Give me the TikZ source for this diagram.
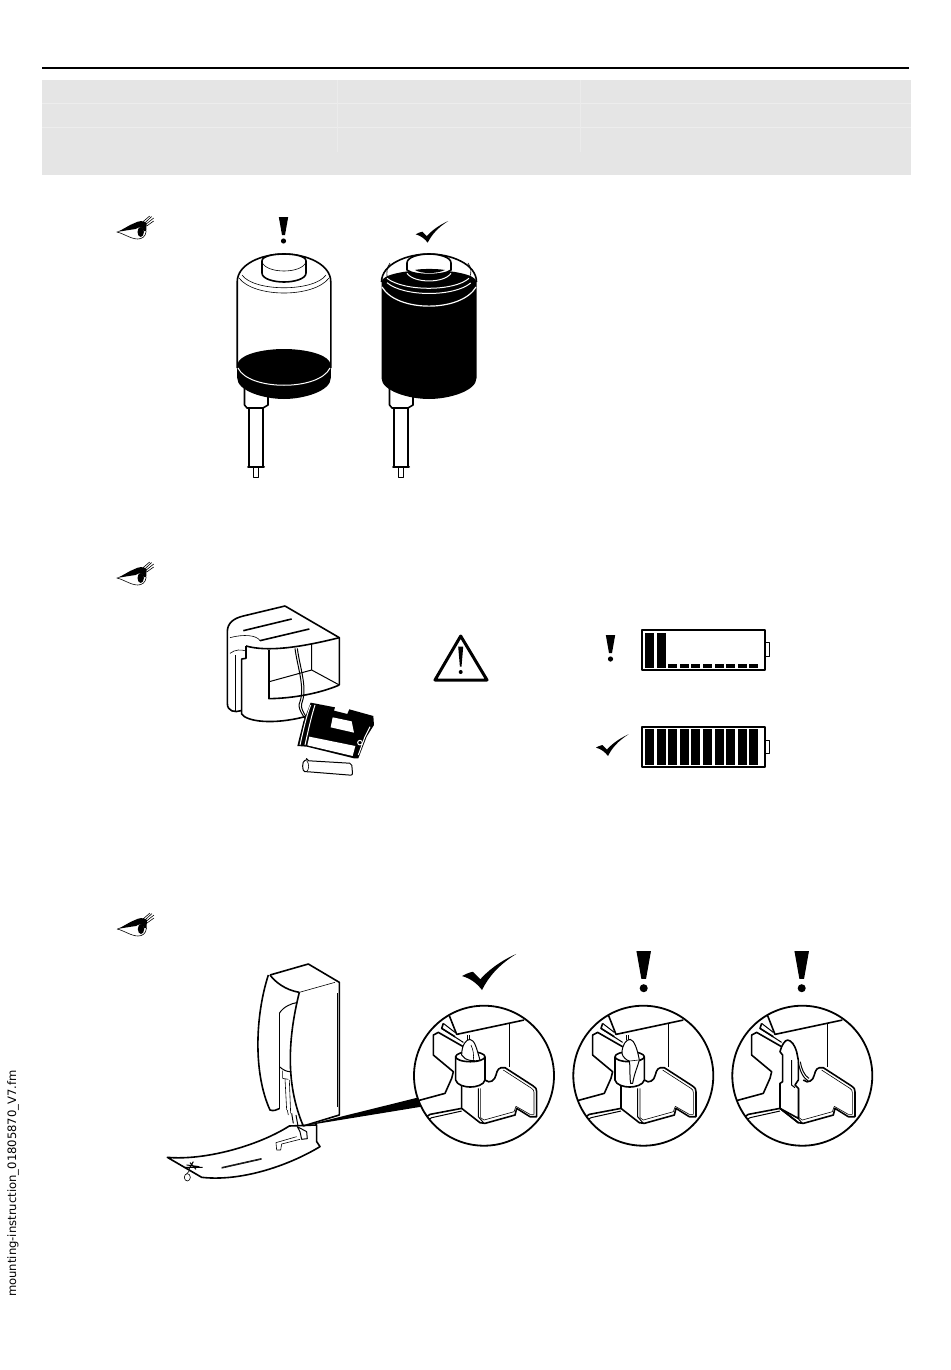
\documentclass[tikz,border=0pt]{standalone}
\usepackage{fontspec}
\setmainfont{DejaVu Sans}
\tikzset{
	heavy/.style={line width=1.6pt,line join=round},
	medium/.style={line width=1pt,line join=round},
	fine/.style={line width=.6pt,line join=round},
	zoomview/.style={shift={(#1,1075.7)},x=.3333pt,y=-.3333pt,shift={(-222,-392)}},
	tickmark/.pic={
		\fill(0,0)..controls(-3,-4)and(-7,-7)..(-12,-8.4)..controls(-10,-9.5)and(-8,-10.5)..(-5.5,-11)..controls(-4,-9.5)and(-2.5,-8)..(-1,-6.5)..controls(3,-11)and(10,-17)..(20.6,-21.7)..controls(10,-15)and(4,-8)..cycle;
	},
	warnmark/.pic={
		\fill(-4.7,0)--(4.7,0)--(1.5,18)--(-1.5,18)--cycle;
		\fill(0,24)circle[radius=2.6];
	},
	eyemark/.pic={
		\fill(0,0)..controls(6,-2)and(12,-7)..(18,-9)..controls(22,-11)and(26,-12)..(30,-9)--(29.5,-1)--(27,-1)..controls(26,-6)and(22,-5)..(19,-3)..controls(12,-2)and(6,-1)..cycle;
		\fill(24,0)ellipse[x radius=3.2,y radius=5];
		\draw[fine](0,0)..controls(6,1)and(14,7)..(21,7)..controls(25,7)and(29,5)..(29.5,-1);
		\draw[fine](26,-10)--(33,-16)(28,-9)--(35,-15.5)(29.5,-8)--(37,-14)(30,-6)--(37,-11);
	},
	bottlestem/.pic={
		\draw[heavy,fill=white](-39.5,130)--(-39.5,151)--(-37,154)--(-21,154)--(-16,151)--(-16,130);
		\draw[line width=1.3pt](-35,154)--(-35,212)(-21,154)--(-21,212);
		\draw[line width=2pt,line cap=round](-36,213)--(-20,213);
		\draw[medium](-31,214)--(-31,223)--(-26,223)--(-26,214);
	},
	clipbase/.pic={
		\draw[heavy](118,212)--(140,268)--(342,225);
		\draw[heavy](100,235)--(95,250)--(135,275);
		\draw[medium](100,235)--(135,262);
		\draw[medium](95,250)--(160,292);
		\draw[heavy](160,305)--(85,262)--(70,270)--(70,330)--(130,380)--(125,400)--(105,445)--(20,468);
		\draw[heavy](298,238)--(298,365);
		\draw[heavy](155,490)--(60,508)--(40,522);
		\draw[medium](155,498)--(65,518)--(45,530);
		\draw[heavy](155,415)--(155,490)--(210,533)--(225,535)--(315,510)--(320,490)--(360,515)--(380,515)--(380,440)..controls(380,432)and(378,428)..(370,423)--(285,368)..controls(265,365)and(262,375)..(258,390)..controls(255,405)and(240,418)..(225,405);
		\draw[medium](205,430)--(205,515)--(222,535);
		\draw[fine](212,430)--(212,518)--(222,525)--(312,500)--(318,484)--(360,508)--(372,508)--(372,442)..controls(372,436)and(370,434)..(365,430)--(280,375);
	},
	knobbody/.pic={
		\draw[heavy,fill=white](137,335)--(137,405)..controls(140,420)and(165,426)..(181,426)..controls(197,426)and(222,420)..(225,405)--(225,335);
		\draw[heavy,fill=white](181,335)ellipse[x radius=44,y radius=15];
		\draw[medium](172,270)--(172,285)(178,270)--(178,285);
	},
}
\begin{document}
\begin{tikzpicture}[x=1pt,y=-1pt]
	\useasboundingbox(0,0)rectangle(950,1370);
	% header
	\draw[line width=2pt](42,68)--(909,68);
	\fill[black!10](42,80)rectangle(911,175);
	\draw[black!7,line width=.8pt](42,103)--(911,103)(42,127)--(911,127);
	\draw[black!8,line width=.8pt](337,80)--(337,152)(580,80)--(580,152);
	\node(docname)[rotate=90,font=\fontsize{11.6}{13}\selectfont]at(13,1183.5){mounting-instruction\_01805870\_V7.fm};
	\pic at(116.7,232){eyemark};
	\pic at(116.7,578){eyemark};
	\pic at(117,929){eyemark};
	% first bottle
	\pic at(283.5,217){warnmark};
	\begin{scope}[shift={(284,254)}]
		\pic{bottlestem};
		\fill[black](-46.8,112)--(-46.8,124)..controls(-46.8,137)and(-20,145)..(0,145)..controls(20,145)and(46.8,137)..(46.8,124)--(46.8,112)..controls(46.8,100)and(20,95)..(0,95)..controls(-20,95)and(-46.8,100)..(-46.8,112)--cycle;
		\draw[heavy](-46.8,114)--(-46.8,28)..controls(-46.8,10)and(-22,0)..(0,0)..controls(22,0)and(46.8,10)..(46.8,28)--(46.8,114);
		\draw[white,medium](-46,114)..controls(-35,137)and(35,137)..(46,114);
		\draw[fine](-42,21)..controls(-30,38)and(30,38)..(42,21);
		\draw[fine](-45,24)..controls(-30,44)and(30,44)..(45,24);
		\draw[heavy,fill=white](-22,7)..controls(-22,2)and(-10,0)..(0,0)..controls(10,0)and(22,2)..(22,7)--(22,19)..controls(22,25)and(10,28)..(0,28)..controls(-10,28)and(-22,25)..(-22,19)--cycle;
		\draw[fine](-22,8)..controls(-18,20)and(18,20)..(22,8);
	\end{scope}
	% second bottle
	\pic at(427.7,242.7){tickmark};
	\begin{scope}[shift={(429,254)}]
		\pic{bottlestem};
		\fill[black](-47.5,28)--(-47.5,124)..controls(-47.5,137)and(-20,145)..(0,145)..controls(20,145)and(47.5,137)..(47.5,124)--(47.5,28)..controls(47.5,20)and(20,16)..(0,16)..controls(-20,16)and(-47.5,20)..(-47.5,28)--cycle;
		\draw[heavy](-47.5,28)..controls(-47.5,10)and(-22,0)..(0,0)..controls(22,0)and(47.5,10)..(47.5,28);
		\draw[fine](-39,9)..controls(-43,14)and(-42,20)..(-42,22);
		\draw[fine](39,9)..controls(43,14)and(42,20)..(41,22);
		\draw[white,line width=1.2pt](-47,33)..controls(-32,58.5)and(32,58.5)..(47,33);
		\draw[white,medium](-42,28.7)..controls(-25,43)and(25,43)..(41.7,29);
		\draw[white,medium](-42,24.3)..controls(-25,37.6)and(25,37.6)..(40,24.3);
		\draw[heavy,fill=white](-22,9)..controls(-22,3)and(-10,0)..(0,0)..controls(10,0)and(22,3)..(22,9)--(22,16)..controls(15,22)and(-15,22)..(-22,16)--cycle;
		\fill[black](-14,16)..controls(-8,14.6)and(8,14.6)..(16,16)..controls(8,20)and(-8,20)..(-14,16)--cycle;
		\draw[white,medium](-22,19.3)..controls(-15,29.5)and(15,29.5)..(22,19.3);
	\end{scope}
	% dispenser with battery holder
	\begin{scope}[shift={(210,590)},x=.3333pt,y=-.3333pt]
		\draw[heavy](93,362)..controls(75,368)and(52,365)..(52,340)--(52,125)..controls(52,100)and(70,85)..(100,78)--(225,48)--(388,143)--(388,285);
		\draw[heavy](108,168)--(108,205)--(95,207)--(95,372)..controls(110,395)and(190,405)..(285,380);
		\draw[heavy](108,168)..controls(170,185)and(260,175)..(388,143);
		\draw[heavy](177,180)--(177,326)..controls(250,325)and(330,310)..(388,285);
		\draw[medium](305,160)--(305,240)(178,275)--(305,240)--(388,285);
		\draw[heavy](100,122)--(245,87)(150,152)--(298,117);
		\draw[fine](60,143)..controls(100,132)and(140,135)..(150,152);
		\draw[fine](60,190)..controls(75,178)and(95,178)..(108,183);
		\draw[fine](75,195)--(75,362);
		\draw[medium](255,175)..controls(262,230)and(285,290)..(270,335)..controls(260,355)and(280,375)..(290,395);
		\draw[medium](262,175)..controls(269,230)and(292,290)..(277,335)..controls(267,355)and(287,375)..(297,395);
		\fill[black](302,338)--(375,352)--(372,362)--(412,372)--(418,358)--(490,378)--(492,405)--(470,440)--(445,505)--(432,505)--(290,470)--(262,468)--(280,395)--cycle;
		\fill[white](368,382)--(425,394)--(432,428)--(362,412)--cycle;
		\fill[white](298,440)--(436,468)--(428,498)--(292,466)--cycle;
		\fill[black](318,415)--(440,445)--(434,465)--(314,436)--cycle;
		\draw[white,medium](302,345)..controls(290,375)and(280,420)..(270,465);
		\draw[white,medium](315,345)..controls(305,375)and(295,420)..(285,465);
		\draw[white,medium](480,410)--(465,440)--(445,495);
		\draw[white,medium](450,458)circle[radius=7];
		\draw[medium,fill=white,rounded corners=2pt](290,512)--(425,520)--(428,556)--(290,545)..controls(276,545)and(276,512)..(290,512)--cycle;
		\draw[fine](290,512)..controls(298,520)and(298,538)..(290,545);
	\end{scope}
	% warning triangle and battery gauges
	\draw[line width=3pt,line join=round](460.7,636)--(487,680)--(435,680)--cycle;
	\fill(458.2,646.7)--(463.2,646.7)--(461.5,666.7)--(459.9,666.7)--cycle;
	\fill(460.7,672)circle[radius=2];
	\pic at(610.5,635){warnmark};
	\pic at(608,756){tickmark};
	\draw[heavy](642,629.8)rectangle(765,669.8);
	\draw[medium](765,642.7)rectangle(769.5,656.7);
	\draw[heavy](642,726.8)rectangle(765,766.8);
	\draw[medium](765,740)rectangle(769.5,753);
	\foreach\bar in {0,...,9}{
		\fill(645+11.6*\bar,729.3)rectangle(654+11.6*\bar,764.5);
	}
	\foreach\bar in {0,1}{
		\fill(645+11.6*\bar,632.5)rectangle(654+11.6*\bar,667.5);
	}
	\foreach\bar in {2,...,9}{
		\fill(645+11.6*\bar,664.3)rectangle(654+11.6*\bar,667.5);
	}
	% opened dispenser
	\begin{scope}[shift={(160,950)},x=.3333pt,y=-.3333pt]
		\draw[heavy,fill=white](22,622)..controls(130,632)and(290,590)..(388,528)--(470,525)--(470,575)--(480,590)..controls(380,650)and(240,695)..(125,682)--cycle;
		\fill(430,528)--(785,440)--(785,470)--cycle;
		\draw[heavy](330,75)--(445,42)--(538,97)--(538,495)--(430,528);
		\draw[fine](533,130)--(533,470);
		\draw[heavy](325,75)..controls(285,200)and(280,370)..(330,480)..controls(340,484)and(350,480)..(358,476);
		\draw[heavy](330,75)..controls(345,95)and(375,120)..(418,127);
		\draw[heavy](418,127)..controls(385,260)and(375,400)..(430,528);
		\draw[fine](418,127)--(525,97);
		\draw[heavy](358,190)--(358,476);
		\draw[medium](358,190)..controls(370,170)and(395,160)..(410,158);
		\draw[medium](358,350)..controls(370,360)and(380,365)..(390,365);
		\draw[fine](368,362)--(368,385)--(385,388)(375,385)--(380,480)(388,390)--(392,490)(382,480)--(385,495);
		\draw[medium](395,490)--(400,520)(408,495)--(414,528);
		\draw[fine](350,600)--(348,578)--(410,560)(350,600)--(362,600)--(365,582)--(420,568);
		\draw[medium,fill=white](412,530)--(440,545)--(442,566)--(425,568)--(420,545)--cycle;
		\draw[medium](72,652)--(128,652)(80,645)--(118,650)(90,638)--(108,658)(100,635)--(85,660);
		\draw[fine](82,682)ellipse[x radius=9,y radius=11];
		\draw[fine](80,672)--(90,660);
		\draw[fine](185,652)--(305,625)(185,655)--(305,628);
	\end{scope}
	% detail views
	\pic[scale=1.66]at(482,990){tickmark};
	\pic[scale=1.55]at(643.7,951){warnmark};
	\pic[scale=1.55]at(801.7,951){warnmark};
	\begin{scope}[zoomview=484]
		\draw[fill=white,draw=none](222,392)circle[radius=210];
		\clip(222,392)circle[radius=210];
		\pic{clipbase};
		\pic{knobbody};
		\draw[medium,fill=white](155,330)..controls(155,300)and(168,283)..(180,283)..controls(195,285)and(200,312)..(210,345)..controls(195,350)and(165,348)..(155,330)--cycle;
		\draw[fine](183,300)..controls(190,315)and(192,330)..(190,345);
	\end{scope}
	\begin{scope}[zoomview=643.3]
		\draw[fill=white,draw=none](222,392)circle[radius=210];
		\clip(222,392)circle[radius=210];
		\pic{clipbase};
		\pic{knobbody};
		\draw[medium,fill=white](158,325)..controls(158,300)and(170,283)..(183,283)..controls(195,285)and(205,315)..(210,345)..controls(205,365)and(195,385)..(190,415)--(184,415)..controls(180,390)and(184,365)..(180,348)..controls(170,345)and(160,335)..(158,325)--cycle;
		\draw[fine](180,348)--(208,345);
	\end{scope}
	\begin{scope}[zoomview=802.3]
		\draw[fill=white,draw=none](222,392)circle[radius=210];
		\clip(222,392)circle[radius=210];
		\pic{clipbase};
		\draw[heavy,fill=white](155,415)--(163,410)--(163,330)--(155,320)..controls(160,300)and(170,285)..(178,285)..controls(190,287)and(198,298)..(205,320)--(210,345)--(210,405)--(200,420)--(210,430)--(210,520)--(155,490)--cycle;
		\draw[medium](190,345)--(190,420)--(200,428);
		\draw[medium](210,350)..controls(213,375)and(225,400)..(240,408);
		\draw[medium](216,350)..controls(219,370)and(228,392)..(242,400);
		\draw[heavy](155,490)--(210,533);
	\end{scope}
	\draw[line width=1.8pt](484,1075.7)circle[radius=70];
	\draw[line width=1.8pt](643.3,1075.7)circle[radius=70];
	\draw[line width=1.8pt](802.3,1075.7)circle[radius=70];
\end{tikzpicture}
\end{document}
